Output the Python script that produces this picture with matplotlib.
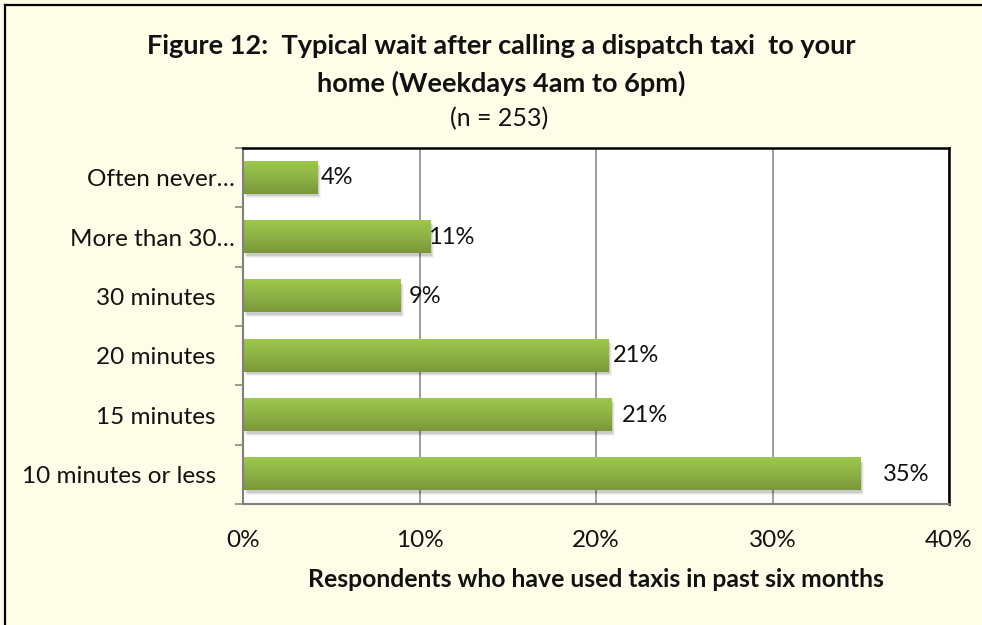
import matplotlib
matplotlib.use("Agg")
import matplotlib.pyplot as plt
import numpy as np
from matplotlib.colors import LinearSegmentedColormap
from matplotlib.patches import Rectangle
from matplotlib.transforms import ScaledTranslation
from matplotlib.lines import Line2D

# ---- data (bottom to top) ----
categories = ["10 minutes or less", "15 minutes", "20 minutes", "30 minutes",
              "More than 30\u2026", "Often never\u2026"]
values = [35.0, 20.9, 20.7, 8.9, 10.6, 4.2]
value_labels = ["35%", "21%", "21%", "9%", "11%", "4%"]
xticks = [0, 10, 20, 30, 40]
xtick_labels = ["0%", "10%", "20%", "30%", "40%"]
title_line1 = "Figure 12:  Typical wait after calling a dispatch taxi  to your"
title_line2 = "home (Weekdays 4am to 6pm)"
subtitle = "(n = 253)"
xlabel = "Respondents who have used taxis in past six months"

# label offsets in pixels from bar end (as placed in the original)
label_offsets_px = [22, 10, 5, 9, -2, 4]

FONT = "Lato"
BG = "#FEFDE8"
TXT = "#111111"

fig = plt.figure(figsize=(9.82, 6.25), dpi=100, facecolor=BG)
W, H = 982, 625

# outer border (left and top visible)
fig.add_artist(Line2D([5 / W, 5 / W], [0, 1 - 5 / H], transform=fig.transFigure,
                      color="black", lw=1.6))
fig.add_artist(Line2D([5 / W, 1], [1 - 5 / H, 1 - 5 / H], transform=fig.transFigure,
                      color="black", lw=1.6))

left, right, top, bottom = 243, 949, 148, 504
ax = fig.add_axes([left / W, 1 - bottom / H, (right - left) / W, (bottom - top) / H])
ax.set_facecolor("white")

ypos = np.arange(len(categories))
bar_h = 0.54

cmap = LinearSegmentedColormap.from_list("g", ["#7A983A", "#8DB244", "#9EC74C"])
grad = np.linspace(0, 1, 64).reshape(-1, 1)

for y, v in zip(ypos, values):
    # soft shadow
    for dx, dy, a in [(1.5, -2.5, 0.10), (2.5, -3.5, 0.07), (3.5, -4.5, 0.04)]:
        sh = Rectangle((0, y - bar_h / 2), v, bar_h, facecolor="black", alpha=a,
                       edgecolor="none", zorder=1.5,
                       transform=ax.transData + ScaledTranslation(dx / 100, dy / 100, fig.dpi_scale_trans))
        ax.add_patch(sh)
    ax.imshow(grad, extent=[0, v, y - bar_h / 2, y + bar_h / 2], aspect="auto",
              cmap=cmap, origin="lower", zorder=2, interpolation="bilinear")

for y, v, lab, off in zip(ypos, values, value_labels, label_offsets_px):
    ax.annotate(lab, xy=(v, y), xytext=(off * 72 / 100, 0), textcoords="offset points",
                ha="left", va="center", fontsize=17, family=FONT, color=TXT, zorder=3)

ax.set_xlim(0, 40)
ax.set_ylim(-0.5, len(categories) - 0.5)
ax.set_aspect("auto")

ax.set_xticks(xticks)
ax.set_xticklabels(xtick_labels, family=FONT, fontsize=17.5, color=TXT)
ax.tick_params(axis="x", length=0, pad=19)

ax.set_yticks(ypos)
ylabels = [c if c.endswith("\u2026") else c + "   " for c in categories]
ax.set_yticklabels(ylabels, family=FONT, fontsize=17.5, color=TXT)
ax.tick_params(axis="y", which="major", length=0, pad=6)
ax.set_yticks(np.arange(-0.5, len(categories), 1.0), minor=True)
ax.tick_params(axis="y", which="minor", length=6, color="#888888", width=1.2)

ax.grid(axis="x", color="#8C8C8C", lw=1.2, zorder=0.5)
ax.set_axisbelow(True)

for s in ["top", "right"]:
    ax.spines[s].set_color("black")
    ax.spines[s].set_linewidth(1.8)
for s in ["left", "bottom"]:
    ax.spines[s].set_color("#808080")
    ax.spines[s].set_linewidth(1.5)

ax.set_xlabel(xlabel, family=FONT, fontsize=17.8, fontweight="bold", color=TXT, labelpad=12)

fig.text(501 / W, 1 - 46 / H, title_line1, ha="center", va="center", family=FONT,
         fontsize=19.5, fontweight="bold", color=TXT)
fig.text(501 / W, 1 - 83 / H, title_line2, ha="center", va="center", family=FONT,
         fontsize=19.5, fontweight="bold", color=TXT)
fig.text(499 / W, 1 - 119 / H, subtitle, ha="center", va="center", family=FONT,
         fontsize=18, color=TXT)

fig.savefig("out.png", dpi=100, facecolor=BG)
